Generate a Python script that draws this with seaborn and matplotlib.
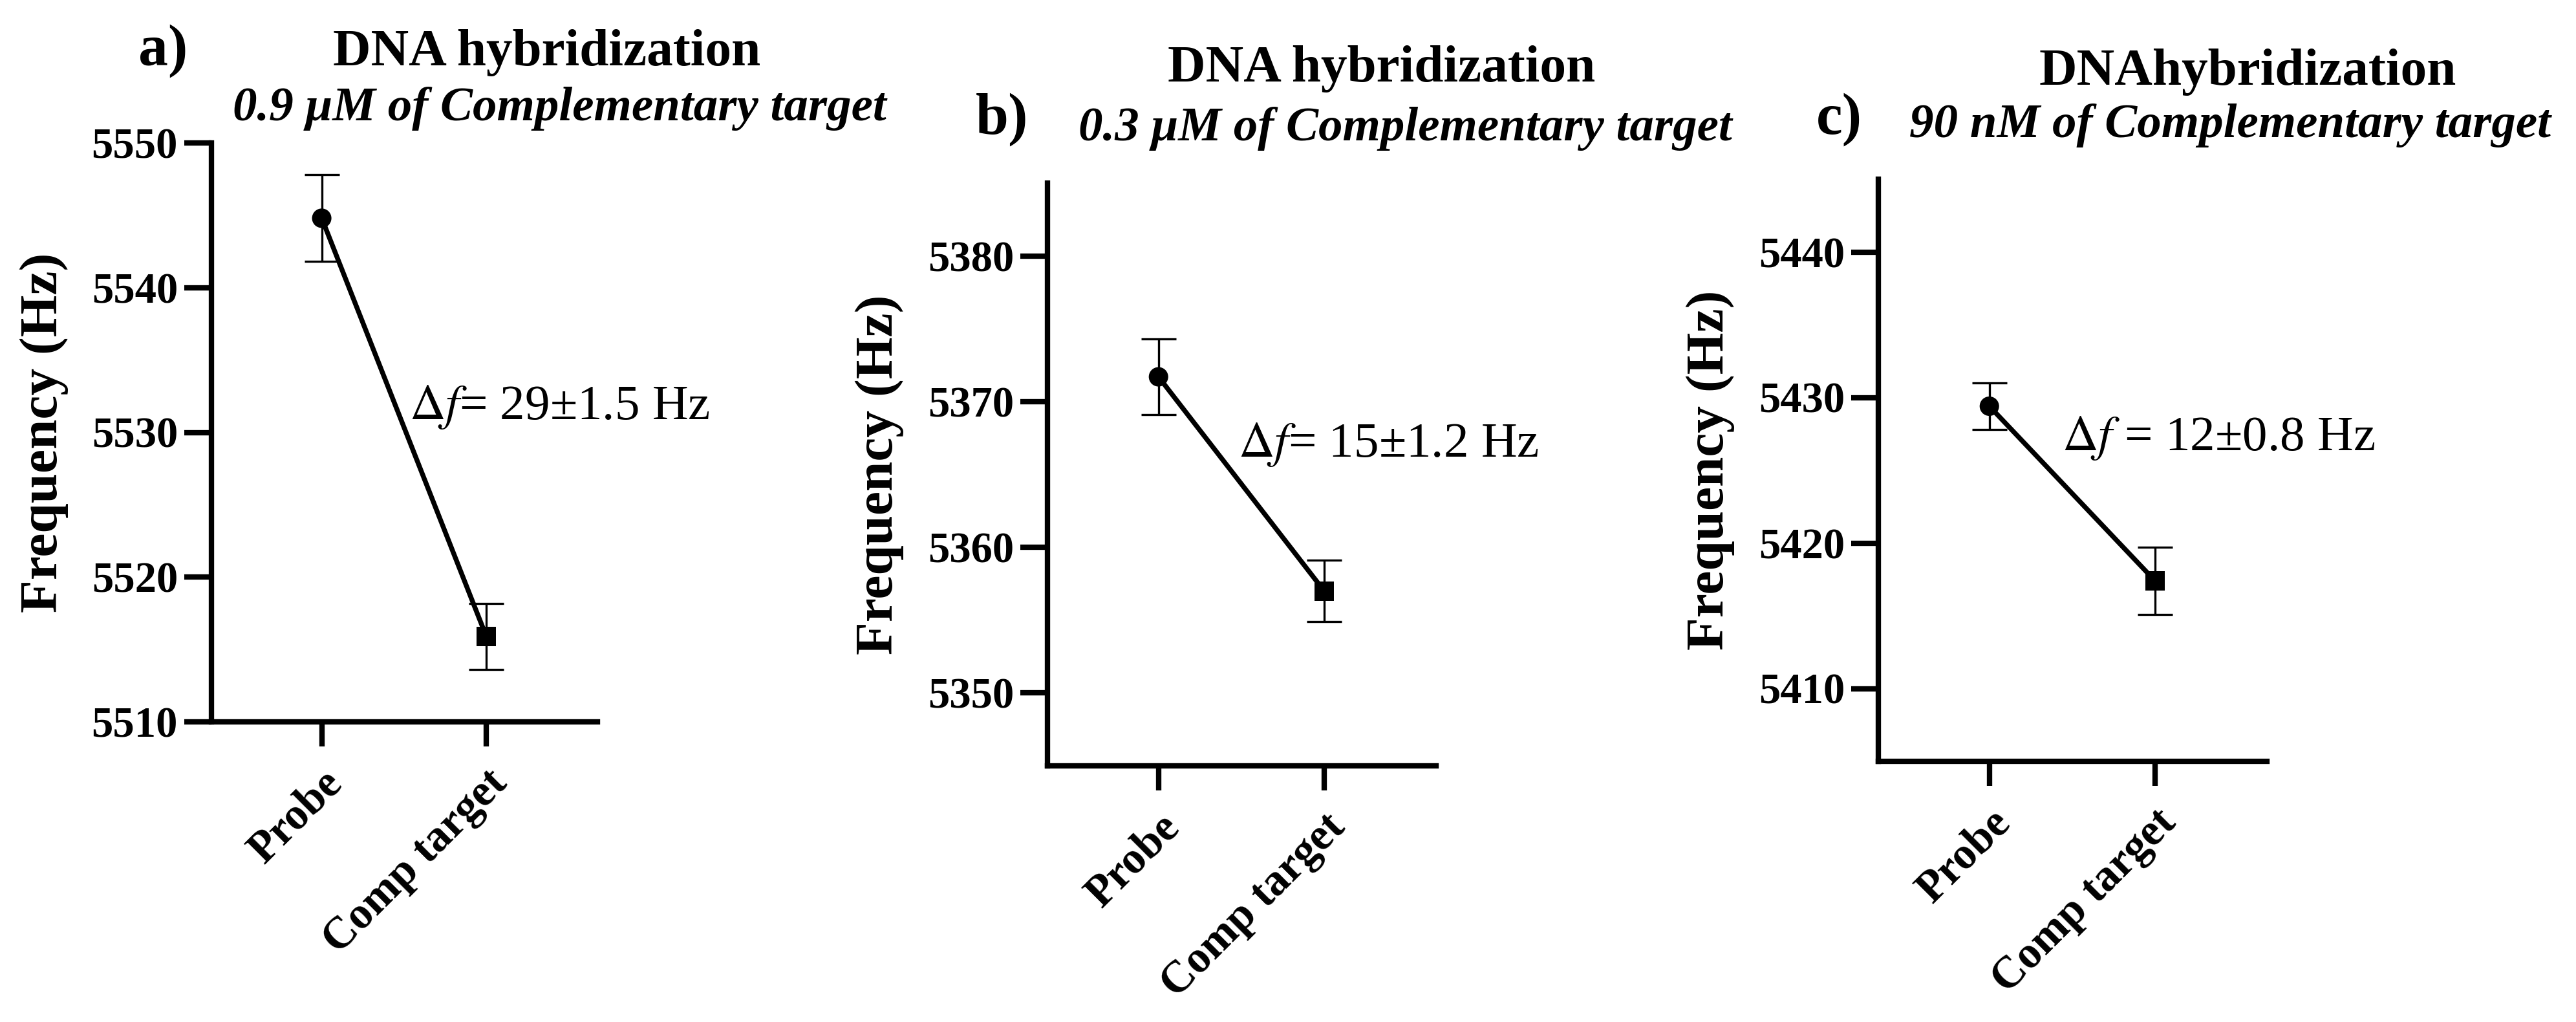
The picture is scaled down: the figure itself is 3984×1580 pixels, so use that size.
import matplotlib
matplotlib.use("Agg")
import matplotlib.pyplot as plt
import seaborn as sns
import numpy as np
import pandas as pd

# data
categories = ["Probe", "Comp target"]

probe_means = [5544.8, 5371.7, 5429.4]
probe_errs = [3.0, 2.6, 1.6]
comp_means = [5515.9, 5357.0, 5417.4]
comp_errs = [2.3, 2.1, 2.3]

panel_letters = ["a)", "b)", "c)"]
titles = ["DNA hybridization", "DNA hybridization", "DNAhybridization"]
subtitles = ["0.9 \u03bcM of Complementary target",
             "0.3 \u03bcM of Complementary target",
             "90 nM of Complementary target"]
delta_labels = ["$\\Delta f$= 29\u00b11.5 Hz",
                "$\\Delta f$= 15\u00b11.2 Hz",
                "$\\Delta f$ = 12\u00b10.8 Hz"]
y_limits = [(5510, 5550), (5345, 5385), (5405, 5445)]
y_ticks = [[5510, 5520, 5530, 5540, 5550],
           [5350, 5360, 5370, 5380],
           [5410, 5420, 5430, 5440]]

sns.set_style("ticks")
plt.rcParams["font.family"] = ["Liberation Serif", "DejaVu Serif"]
plt.rcParams["mathtext.fontset"] = "stix"
for key in ["text.color", "axes.labelcolor", "xtick.color", "ytick.color",
            "axes.edgecolor"]:
    plt.rcParams[key] = "black"

W, H = 3984, 1580
fig = plt.figure(figsize=(W / 300, H / 300), dpi=300)

# axes boxes in pixels: left, top, right, bottom
boxes = [(327, 221, 924, 1116), (1620, 283, 2221, 1184), (2905, 277, 3506, 1177)]
# header text positions in pixels
letter_pos = [(214, 101), (1509, 207), (2809, 207)]
title_pos = [(846, 101), (2137, 126), (3476, 131)]
sub_pos = [(865, 186), (2173, 217), (3449, 212)]
delta_pos = [(0.53, 5530.9), (0.48, 5366.2), (0.44, 5426.4)]

for i in range(3):
    l, t, r, b = boxes[i]
    ax = fig.add_axes([l / W, 1 - b / H, (r - l) / W, (b - t) / H])

    df = pd.DataFrame({
        "pos": np.arange(len(categories)),
        "group": categories,
        "freq": [probe_means[i], comp_means[i]],
        "err": [probe_errs[i], comp_errs[i]],
    })

    sns.lineplot(data=df, x="pos", y="freq", color="black", linewidth=1.8,
                 sort=False, ax=ax)
    ax.errorbar(df["pos"], df["freq"], yerr=df["err"], fmt="none",
                ecolor="black", elinewidth=0.8, capsize=6.5, capthick=0.8)
    sns.scatterplot(data=df, x="pos", y="freq", style="group",
                    markers={"Probe": "o", "Comp target": "s"},
                    color="black", s=52, linewidth=0, legend=False,
                    zorder=5, ax=ax)

    ax.set_xlim(-0.67, 1.675)
    ax.set_ylim(*y_limits[i])
    ax.set_yticks(y_ticks[i])
    ax.set_xticks(df["pos"])
    ax.set_xticklabels(categories, rotation=45, ha="right",
                       rotation_mode="anchor", fontweight="bold", fontsize=16.5)
    for lab in ax.get_yticklabels():
        lab.set_fontweight("bold")
    ax.tick_params(axis="y", length=10, width=2, labelsize=16, pad=2.5,
                   color="black", labelcolor="black")
    ax.tick_params(axis="x", length=9, width=2, pad=6, color="black",
                   labelcolor="black")

    sns.despine(ax=ax)
    for side in ["left", "bottom"]:
        ax.spines[side].set_linewidth(2)
        ax.spines[side].set_color("black")

    ax.set_xlabel("")
    ax.set_ylabel("Frequency (Hz)", fontsize=20, fontweight="bold",
                  color="black")
    ax.yaxis.set_label_coords(-0.37, 0.5)

    ax.text(delta_pos[i][0], delta_pos[i][1], delta_labels[i], fontsize=18.5,
            va="baseline", ha="left", color="black")

    fig.text(letter_pos[i][0] / W, 1 - letter_pos[i][1] / H, panel_letters[i],
             fontsize=22, fontweight="bold", ha="left", va="baseline")
    fig.text(title_pos[i][0] / W, 1 - title_pos[i][1] / H, titles[i],
             fontsize=19.5, fontweight="bold", ha="center", va="baseline")
    fig.text(sub_pos[i][0] / W, 1 - sub_pos[i][1] / H, subtitles[i],
             fontsize=18, fontweight="bold", style="italic",
             ha="center", va="baseline")

fig.savefig("out.png", dpi=300, facecolor="white")
